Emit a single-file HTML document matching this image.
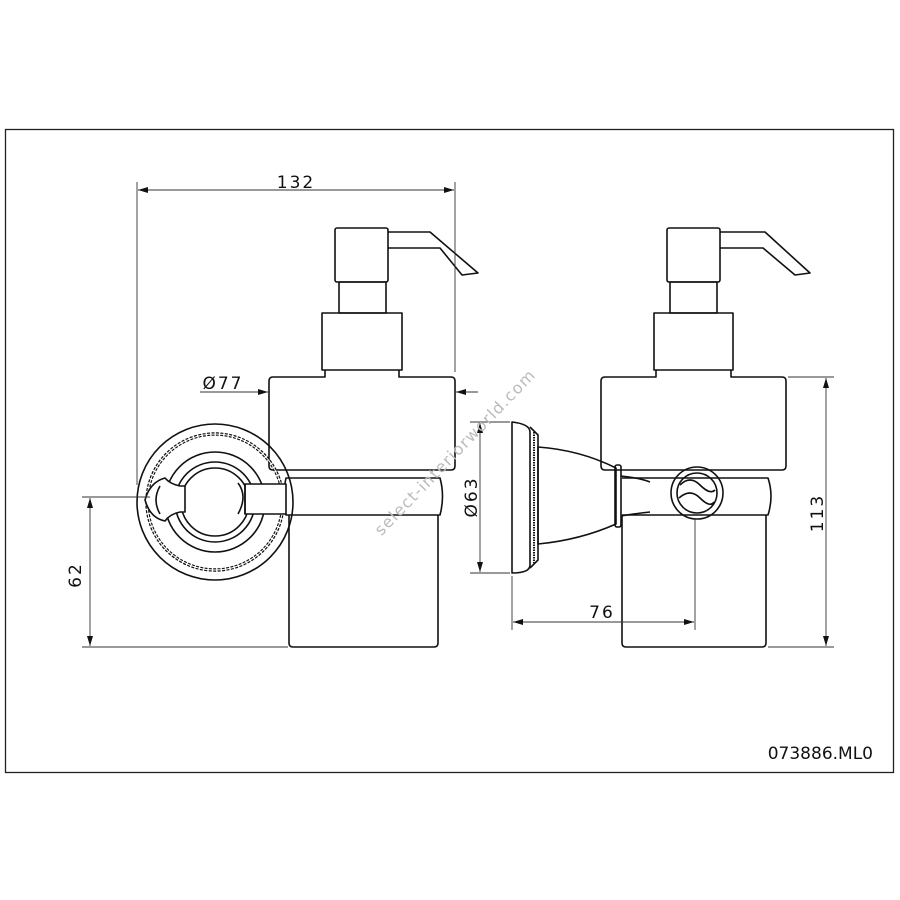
<!DOCTYPE html>
<html><head><meta charset="utf-8"><style>
html,body{margin:0;padding:0;background:#fff;}
svg{display:block;font-family:"DejaVu Sans","Liberation Sans",sans-serif;}
</style></head><body>
<svg width="900" height="900" viewBox="0 0 900 900" xmlns="http://www.w3.org/2000/svg">
<defs>
<marker id="a" viewBox="0 0 10 6" refX="10" refY="3" markerWidth="10" markerHeight="6" orient="auto-start-reverse" markerUnits="userSpaceOnUse"><path d="M0,0 L10,3 L0,6 z" fill="#111"/></marker>
</defs>
<rect x="5.5" y="129.5" width="888" height="643" fill="none" stroke="#222" stroke-width="1.3"/>

<g fill="none" stroke="#111" stroke-width="1.6" stroke-linejoin="round">
<!-- LEFT -->
<rect x="335" y="228" width="53" height="54" rx="2"/>
<path d="M388,232 L430,232 L478,273 L462,275 L440,248 L388,248"/>
<rect x="339" y="282" width="47" height="31"/>
<rect x="322" y="313" width="80" height="57"/>
<path d="M325,370 L325,377 L273,377 Q269,377 269,381 L269,466 Q269,470 273,470 L451,470 Q455,470 455,466 L455,381 Q455,377 451,377 L399,377 L399,370"/>
<path d="M286,478 L440,478 Q445,496 440,515 L286,515 Q282,496 286,478 Z"/>
<path d="M289,515 L289,643 Q289,647 293,647 L434,647 Q438,647 438,643 L438,515"/>
<circle cx="215" cy="502" r="78"/>
<circle cx="215" cy="502" r="68" stroke-dasharray="3 1.4" stroke-width="3.4"/>
<circle cx="215" cy="502" r="68" stroke="#fff" stroke-width="1" />
<circle cx="215" cy="502" r="50"/>
<circle cx="215" cy="502" r="40"/>
<circle cx="215" cy="502" r="34"/>
<rect x="245" y="484" width="41" height="30" fill="#fff"/>
<path d="M238,483 Q248,496 238,514 M245,484 L245,514"/>
<path d="M165,478 Q170,484 180,486 L185,486 L185,512 L180,512 Q170,514 165,521 Q150,518 145,500 Q150,482 165,478 Z" fill="#fff"/>
<path d="M160,486 Q152,500 160,514"/>
<!-- RIGHT -->
<rect x="667" y="228" width="53" height="54" rx="2"/>
<path d="M720,232 L765,232 L810,273 L795,275 L763,248 L720,248"/>
<rect x="670" y="282" width="47" height="31"/>
<rect x="654" y="313" width="79" height="57"/>
<path d="M656,370 L656,377 L605,377 Q601,377 601,381 L601,466 Q601,470 605,470 L782,470 Q786,470 786,466 L786,381 Q786,377 782,377 L731,377 L731,370"/>
<path d="M622,478 L768,478 Q774,496 768,515 L622,515"/>
<path d="M622,515 L622,643 Q622,647 626,647 L762,647 Q766,647 766,643 L766,515"/>
<path d="M512,422 Q530,424 530,432 L530,565 Q530,573 512,573 Z"/>
<path d="M530,427 L538,435 L538,560 L530,568"/>
<line x1="534" y1="432" x2="534" y2="563" stroke-dasharray="1.5 1" stroke-width="2"/>
<path d="M538,447 Q580,450 616,468 L616,524 Q580,540 538,544 Z"/>
<rect x="615" y="465" width="6" height="62" rx="2"/>
<path d="M621,476 Q640,478 650,482 M621,516 Q640,513 650,512"/>
<circle cx="697" cy="493" r="26"/>
<circle cx="697" cy="493" r="20"/>
<path d="M680,485 Q690,475 700,485 Q710,495 715,490 M679,498 Q690,488 700,498 Q710,508 714,502"/>
</g>

<!-- dimension lines -->
<g stroke="#333" stroke-width="0.9" fill="none">
<line x1="137" y1="182" x2="137" y2="485"/>
<line x1="455" y1="182" x2="455" y2="372"/>
<line x1="138" y1="190" x2="454" y2="190" marker-start="url(#a)" marker-end="url(#a)"/>
<line x1="200" y1="392" x2="268" y2="392" marker-end="url(#a)"/>
<line x1="478" y1="392" x2="456" y2="392" marker-end="url(#a)"/>
<line x1="82" y1="497" x2="150" y2="497"/>
<line x1="82" y1="647" x2="288" y2="647"/>
<line x1="90" y1="498" x2="90" y2="646" marker-start="url(#a)" marker-end="url(#a)"/>
<line x1="470" y1="422" x2="510" y2="422"/>
<line x1="470" y1="573" x2="510" y2="573"/>
<line x1="480" y1="423" x2="480" y2="572" marker-start="url(#a)" marker-end="url(#a)"/>
<line x1="512" y1="576" x2="512" y2="630"/>
<line x1="695" y1="518" x2="695" y2="630"/>
<line x1="513" y1="622" x2="694" y2="622" marker-start="url(#a)" marker-end="url(#a)"/>
<line x1="788" y1="377" x2="834" y2="377"/>
<line x1="768" y1="647" x2="834" y2="647"/>
<line x1="826" y1="378" x2="826" y2="646" marker-start="url(#a)" marker-end="url(#a)"/>
</g>

<g fill="#111" font-size="17" letter-spacing="2">
<text x="296" y="188" text-anchor="middle">132</text>
<text x="223" y="389" text-anchor="middle">Ø77</text>
<text x="602" y="618" text-anchor="middle">76</text>
<text transform="translate(81,575) rotate(-90)" text-anchor="middle">62</text>
<text transform="translate(477,497) rotate(-90)" text-anchor="middle">Ø63</text>
<text transform="translate(823,513) rotate(-90)" text-anchor="middle">113</text>
</g>
<text x="873" y="759" text-anchor="end" font-size="17" fill="#111">073886.ML0</text>
<text transform="translate(459,456) rotate(-46)" text-anchor="middle" font-size="16" fill="#bbb" letter-spacing="1.2">select-interiorworld.com</text>
</svg>
</body></html>
